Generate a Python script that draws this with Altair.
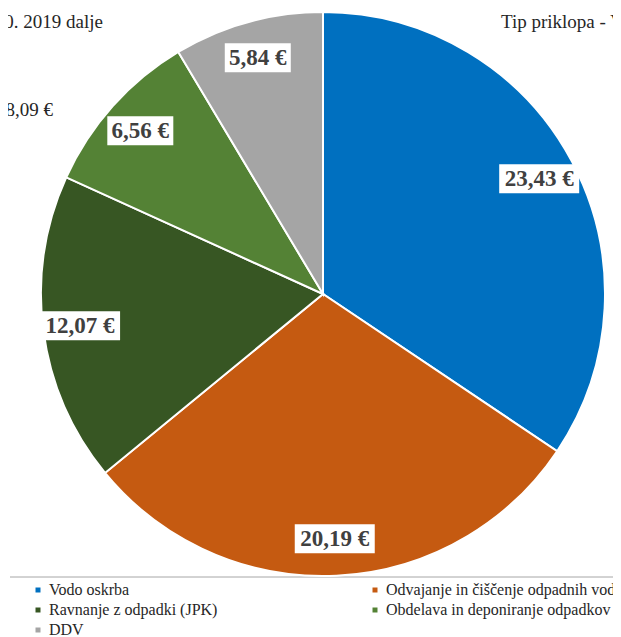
import altair as alt
import pandas as pd

categories = ["Vodo oskrba", "Odvajanje in čiščenje odpadnih voda",
              "Ravnanje z odpadki (JPK)", "Obdelava in deponiranje odpadkov", "DDV"]
values = [23.43, 20.19, 12.07, 6.56, 5.84]
labels = ["23,43 €", "20,19 €", "12,07 €", "6,56 €", "5,84 €"]
colors = ["#0070C0", "#C55A11", "#375623", "#548235", "#A5A5A5"]
# legend is filled column by column: this order gives the reference's row-wise reading
legend_order = [0, 2, 4, 1, 3]
top_left_text = ["Cene od 1. 10. 2019 dalje"]
top_right_text = ["Tip priklopa - Vodomer DN 20"]
total_text = ["Skupaj: 68,09 €"]

df = pd.DataFrame({"i": list(range(len(values))), "cat": categories, "v": values, "lab": labels})

CX, CY, R, LR = 315, 286, 282, 245
SERIF = "Liberation Serif"

base = alt.Chart(df)

color = alt.Color(
    "cat:N",
    scale=alt.Scale(domain=[categories[k] for k in legend_order],
                    range=[colors[k] for k in legend_order]),
    legend=alt.Legend(
        orient="none", legendX=22, legendY=574, columns=2, columnPadding=149,
        rowPadding=4, symbolType="square", symbolSize=25, symbolStrokeWidth=0,
        labelFont=SERIF, labelFontSize=16, labelColor="#262626", labelOffset=3,
        title=None, labelLimit=500, padding=0,
    ),
)

pie = base.mark_arc(outerRadius=R, stroke="white", strokeWidth=2).encode(
    theta=alt.Theta("v:Q", stack=True),
    color=color,
    order=alt.Order("i:Q"),
    x=alt.value(CX),
    y=alt.value(CY),
)

lab = base.transform_window(
    cum="sum(v)", sort=[alt.SortField("i")], frame=[None, 0]
).transform_joinaggregate(tot="sum(v)").transform_calculate(
    a="(datum.cum - datum.v/2)/datum.tot*2*PI",
).transform_calculate(
    lx=f"{CX} + {LR}*sin(datum.a)",
    ly=f"{CY} - {LR}*cos(datum.a)",
    w="length(datum.lab)*14 - 18",
).transform_calculate(
    x1="datum.lx - datum.w/2", x2="datum.lx + datum.w/2",
    y1="datum.ly - 14.5", y2="datum.ly + 14.5",
)

box = lab.mark_rect(color="white").encode(
    x=alt.X("x1:Q", scale=None, axis=None), x2="x2:Q",
    y=alt.Y("y1:Q", scale=None, axis=None), y2="y2:Q",
)
txt = lab.mark_text(font=SERIF, fontWeight="bold", fontSize=23, color="#404040").encode(
    x=alt.X("lx:Q", scale=None, axis=None),
    y=alt.Y("ly:Q", scale=None, axis=None),
    text="lab:N",
)

t1 = alt.Chart(pd.DataFrame({"t": top_left_text})).mark_text(
    font=SERIF, fontSize=19, color="#262626", align="right", baseline="alphabetic"
).encode(x=alt.value(95), y=alt.value(20), text="t:N")
t2 = alt.Chart(pd.DataFrame({"t": top_right_text})).mark_text(
    font=SERIF, fontSize=19, color="#262626", align="left", baseline="alphabetic"
).encode(x=alt.value(493), y=alt.value(20), text="t:N")
t3 = alt.Chart(pd.DataFrame({"t": total_text})).mark_text(
    font=SERIF, fontSize=19, color="#262626", align="right", baseline="middle"
).encode(x=alt.value(45), y=alt.value(102), text="t:N")

frame = alt.Chart(pd.DataFrame({"a": [0]})).mark_rule(color="#a6a6a6", strokeWidth=1).encode(
    x=alt.value(2), x2=alt.value(605), y=alt.value(569)
)

chart = alt.layer(frame, pie, box, txt, t1, t2, t3).properties(
    width=605, height=629, padding=0,
    autosize=alt.AutoSizeParams(type="none"),
).configure_view(stroke=None).configure_legend(labelFont=SERIF)

chart.save("out.html", embed_options={"renderer": "svg", "actions": False})
